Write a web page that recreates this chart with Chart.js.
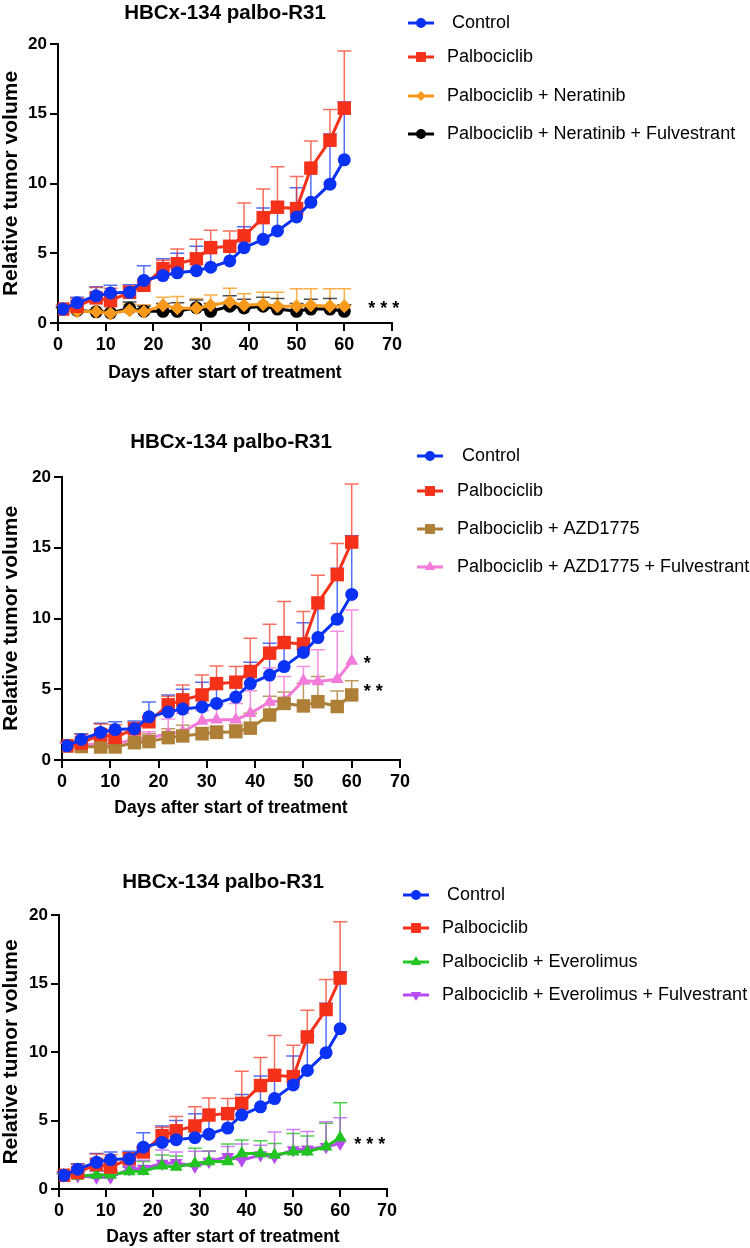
<!DOCTYPE html>
<html>
<head>
<meta charset="utf-8">
<script src="https://cdn.jsdelivr.net/npm/chart.js@4.4.1/dist/chart.umd.min.js"></script>
<style>
  body { margin: 0; background: #fff; width: 750px; height: 1248px; position: relative; overflow: hidden; }
  canvas { position: absolute; left: 0; }
</style>
</head>
<body>
<canvas id="p1" width="750" height="400" style="top:0px"></canvas>
<canvas id="p2" width="750" height="420" style="top:400px"></canvas>
<canvas id="p3" width="750" height="428" style="top:820px"></canvas>
<script>
// days of measurement (shared by all groups)
const days = [1, 4, 8, 11, 15, 18, 22, 25, 29, 32, 36, 39, 43, 46, 50, 53, 57, 60];
const xTicks = [0, 10, 20, 30, 40, 50, 60, 70];
const yTicks = [0, 5, 10, 15, 20];

// mean relative tumor volume + upper end of error bar
const control = [1.0, 1.45, 1.95, 2.15, 2.2, 3.05, 3.4, 3.6, 3.75, 4.0, 4.45, 5.4, 6.0, 6.6, 7.6, 8.65, 9.95, 11.7];
const controlUp = [1.2, 1.85, 2.6, 2.7, 2.75, 4.1, 4.6, 5.0, 5.5, 5.35, 5.7, 6.9, 8.25, 8.65, 9.7, 11.2, 13.55, 15.85];
const palbo = [1.0, 1.2, 1.8, 1.6, 2.2, 2.7, 3.9, 4.25, 4.6, 5.4, 5.5, 6.25, 7.55, 8.3, 8.2, 11.1, 13.1, 15.4];
const palboUp = [1.3, 1.8, 2.55, 2.5, 2.65, 3.0, 4.5, 5.3, 6.0, 6.65, 6.6, 8.6, 9.6, 11.2, 10.5, 13.05, 15.3, 19.5];

const nera = [1.0, 0.84, 0.8, 0.68, 0.92, 0.8, 1.27, 1.05, 1.05, 1.27, 1.5, 1.27, 1.35, 1.2, 1.2, 1.27, 1.2, 1.2];
const neraUp = [1.1, 1.0, 0.95, 0.9, 1.35, 1.3, 1.85, 1.9, 1.75, 2.0, 2.5, 2.1, 2.2, 2.2, 2.45, 2.45, 2.45, 2.45];
const neraFul = [1.0, 0.9, 0.8, 0.72, 1.05, 0.85, 0.84, 0.84, 1.1, 0.84, 1.2, 1.08, 1.2, 1.0, 0.84, 1.0, 1.0, 0.84];
const neraFulUp = [1.1, 1.0, 0.9, 0.85, 1.5, 1.2, 1.4, 1.45, 1.65, 1.4, 1.95, 1.7, 1.85, 1.75, 1.4, 1.7, 1.75, 1.3];

const azd = [1.0, 0.95, 0.92, 0.92, 1.22, 1.3, 1.58, 1.7, 1.85, 1.95, 2.0, 2.25, 3.18, 4.0, 3.82, 4.12, 3.78, 4.6];
const azdUp = [1.2, 1.1, 1.1, 1.1, 1.5, 1.85, 2.2, 2.45, 2.3, 2.4, 2.5, 3.3, 4.5, 4.8, 5.4, 5.9, 4.88, 5.6];
const azdFul = [1.0, 1.05, 1.15, 1.15, 1.45, 1.55, 1.85, 2.0, 2.75, 2.85, 2.85, 3.3, 4.1, 4.2, 5.6, 5.55, 5.7, 7.0];
const azdFulUp = [1.2, 1.3, 1.4, 1.45, 1.8, 2.0, 2.9, 3.3, 3.5, 3.9, 4.0, 4.9, 6.5, 5.9, 6.6, 7.8, 9.1, 10.6];

const evero = [1.0, 0.95, 1.02, 1.02, 1.27, 1.3, 1.7, 1.6, 1.87, 2.0, 2.0, 2.6, 2.6, 2.48, 2.72, 2.72, 3.09, 3.75];
const everoUp = [1.1, 1.2, 1.3, 1.3, 1.6, 2.0, 2.48, 2.4, 2.97, 2.77, 3.28, 3.58, 3.53, 3.33, 4.06, 3.87, 4.8, 6.3];
const everoFul = [1.0, 0.95, 0.85, 0.85, 1.45, 1.5, 1.87, 1.92, 1.65, 2.0, 2.36, 2.1, 2.48, 2.36, 2.85, 2.9, 3.09, 3.33];
const everoFulUp = [1.1, 1.2, 1.3, 1.35, 1.6, 2.1, 2.85, 2.7, 2.75, 2.75, 3.1, 3.28, 3.2, 4.16, 4.35, 4.2, 4.9, 5.2];

Chart.defaults.font.family = "'Liberation Sans', Arial, sans-serif";
Chart.defaults.color = "#000";

const blue = "#0a32f5", red = "#f5311a", orange = "#f99a1c", black = "#000000",
      brown = "#ae7f36", pink = "#f27ad9", green = "#22c422", purple = "#b84cf0";

function series(label, vals, up, color, barColor, style, radius, legR, rot) {
  return {
    label: label,
    data: days.map((d, i) => ({ x: d, y: vals[i] })),
    upper: up,
    barColor: barColor,
    borderColor: color,
    backgroundColor: color,
    borderWidth: 3,
    pointStyle: style,
    pointRadius: radius,
    pointRotation: rot || 0,
    pointBorderWidth: 0,
    legendRadius: legR,
    tension: 0
  };
}

// upper-only error bars, Prism style
const upperBars = {
  id: "upperBars",
  beforeDatasetsDraw(chart) {
    const ctx = chart.ctx, yS = chart.scales.y;
    chart.data.datasets.forEach((ds, i) => {
      const meta = chart.getDatasetMeta(i);
      ctx.save();
      ctx.strokeStyle = ds.barColor;
      ctx.lineWidth = 1.5;
      meta.data.forEach((pt, j) => {
        const top = yS.getPixelForValue(ds.upper[j]);
        ctx.beginPath();
        ctx.moveTo(pt.x, pt.y);
        ctx.lineTo(pt.x, top);
        ctx.moveTo(pt.x - 7, top);
        ctx.lineTo(pt.x + 7, top);
        ctx.stroke();
      });
      ctx.restore();
    });
  }
};

// legend drawn to the right of the plot
const sideLegend = {
  id: "sideLegend",
  afterDraw(chart, args, opts) {
    const ctx = chart.ctx;
    chart.data.datasets.forEach((ds, i) => {
      const y = opts.rows[i];
      ctx.save();
      ctx.strokeStyle = ds.borderColor;
      ctx.fillStyle = ds.borderColor;
      ctx.lineWidth = 3;
      ctx.beginPath();
      ctx.moveTo(opts.x0, y);
      ctx.lineTo(opts.x1, y);
      ctx.stroke();
      Chart.helpers.drawPoint(ctx, {
        pointStyle: ds.pointStyle, rotation: ds.pointRotation, radius: ds.legendRadius, borderWidth: 0
      }, (opts.x0 + opts.x1) / 2, y);
      ctx.fillStyle = "#000";
      ctx.font = "18px 'Liberation Sans', Arial, sans-serif";
      ctx.textBaseline = "middle";
      ctx.textAlign = "left";
      ctx.fillText(ds.label, opts.tx, y);
      ctx.restore();
    });
  }
};

// significance stars
const stars = {
  id: "stars",
  afterDraw(chart, args, opts) {
    const ctx = chart.ctx;
    ctx.save();
    ctx.fillStyle = "#000";
    ctx.font = "bold 18px 'Liberation Sans', Arial, sans-serif";
    ctx.textBaseline = "middle";
    ctx.textAlign = "left";
    opts.marks.forEach(m => {
      ctx.fillText(m.text, chart.scales.x.getPixelForValue(m.x), chart.scales.y.getPixelForValue(m.y) + 4);
    });
    ctx.restore();
  }
};

function makePanel(id, datasets, lay, legend, marks) {
  const ctx = document.getElementById(id).getContext("2d");
  const h = ctx.canvas.height;
  return new Chart(ctx, {
    type: "line",
    data: { datasets: datasets },
    plugins: [upperBars, sideLegend, stars],
    options: {
      responsive: false,
      animation: false,
      devicePixelRatio: 1,
      layout: { padding: { left: 0, right: 750 - lay.right, top: 0, bottom: 0 } },
      scales: {
        x: {
          type: "linear",
          min: 0, max: 70,
          afterBuildTicks: s => { s.ticks = xTicks.map(v => ({ value: v })); },
          afterFit: s => { s.height = h - lay.bottom; },
          grid: { drawOnChartArea: false, drawTicks: true, tickLength: 8, tickColor: "#000", lineWidth: 2 },
          border: { display: true, color: "#000", width: 2 },
          ticks: { padding: 3, color: "#000", font: { size: 18, weight: "bold" } },
          title: {
            display: true, text: "Days after start of treatment", color: "#000",
            font: { size: 17.5, weight: "bold" },
            padding: { top: 0, bottom: Math.max(0, h - lay.xTitle - 10.5) }
          }
        },
        y: {
          min: 0, max: 20,
          afterBuildTicks: s => { s.ticks = yTicks.map(v => ({ value: v })); },
          afterFit: s => { s.width = lay.left; },
          grid: { drawOnChartArea: false, drawTicks: true, tickLength: 8, tickColor: "#000", lineWidth: 2 },
          border: { display: true, color: "#000", width: 2 },
          ticks: { padding: 3, color: "#000", font: { size: 17, weight: "bold" } },
          title: {
            display: true, text: "Relative tumor volume", color: "#000",
            font: { size: 21, weight: "bold", lineHeight: 1.05 },
            padding: { top: 0, bottom: 0 }
          }
        }
      },
      plugins: {
        legend: { display: false },
        tooltip: { enabled: false },
        title: {
          display: true, text: "HBCx-134 palbo-R31", fullSize: false, color: "#000",
          font: { size: 20.5, weight: "bold" },
          padding: { top: lay.titleC - 12.3, bottom: lay.top - lay.titleC - 12.3 }
        },
        sideLegend: legend,
        stars: { marks: marks }
      }
    }
  });
}

makePanel("p1", [
  series(" Control", control, controlUp, blue, "rgba(10,50,245,0.7)", "circle", 6.5, 5),
  series("Palbociclib", palbo, palboUp, red, "rgba(245,49,26,0.7)", "rect", 9.5, 7),
  series("Palbociclib + Neratinib", nera, neraUp, orange, "rgba(249,154,28,0.8)", "rectRot", 7, 5),
  series("Palbociclib + Neratinib + Fulvestrant", neraFul, neraFulUp, black, "rgba(0,0,0,0.7)", "circle", 6.5, 5)
], { left: 58, right: 392, top: 44, bottom: 323, titleC: 13, xTitle: 373 },
   { rows: [23, 57, 96, 134], x0: 408, x1: 434, tx: 447 },
   [{ x: 65, y: 1.3, text: "* * *" }]);

makePanel("p2", [
  series(" Control", control, controlUp, blue, "rgba(10,50,245,0.7)", "circle", 6.5, 5),
  series("Palbociclib", palbo, palboUp, red, "rgba(245,49,26,0.7)", "rect", 9.5, 7),
  series("Palbociclib + AZD1775", azd, azdUp, brown, "rgba(174,127,54,0.8)", "rect", 9.5, 7),
  series("Palbociclib + AZD1775 + Fulvestrant", azdFul, azdFulUp, pink, "rgba(242,122,217,0.85)", "triangle", 7.5, 6)
], { left: 62, right: 400, top: 77, bottom: 360, titleC: 42, xTitle: 408 },
   { rows: [56, 91, 129, 167], x0: 417, x1: 443, tx: 457 },
   [{ x: 62.5, y: 7.05, text: "*" }, { x: 62.5, y: 5.1, text: "* *" }]);

makePanel("p3", [
  series(" Control", control, controlUp, blue, "rgba(10,50,245,0.7)", "circle", 6.5, 5),
  series("Palbociclib", palbo, palboUp, red, "rgba(245,49,26,0.7)", "rect", 9.5, 7),
  series("Palbociclib + Everolimus", evero, everoUp, green, "rgba(34,196,34,0.8)", "triangle", 7.5, 6),
  series("Palbociclib + Everolimus + Fulvestrant", everoFul, everoFulUp, purple, "rgba(184,76,240,0.7)", "triangle", 7.5, 6, 180)
], { left: 59, right: 387, top: 95, bottom: 369, titleC: 62, xTitle: 418 },
   { rows: [75, 108, 142, 175], x0: 403, x1: 429, tx: 442 },
   [{ x: 63, y: 3.5, text: "* * *" }]);
</script>
</body>
</html>
